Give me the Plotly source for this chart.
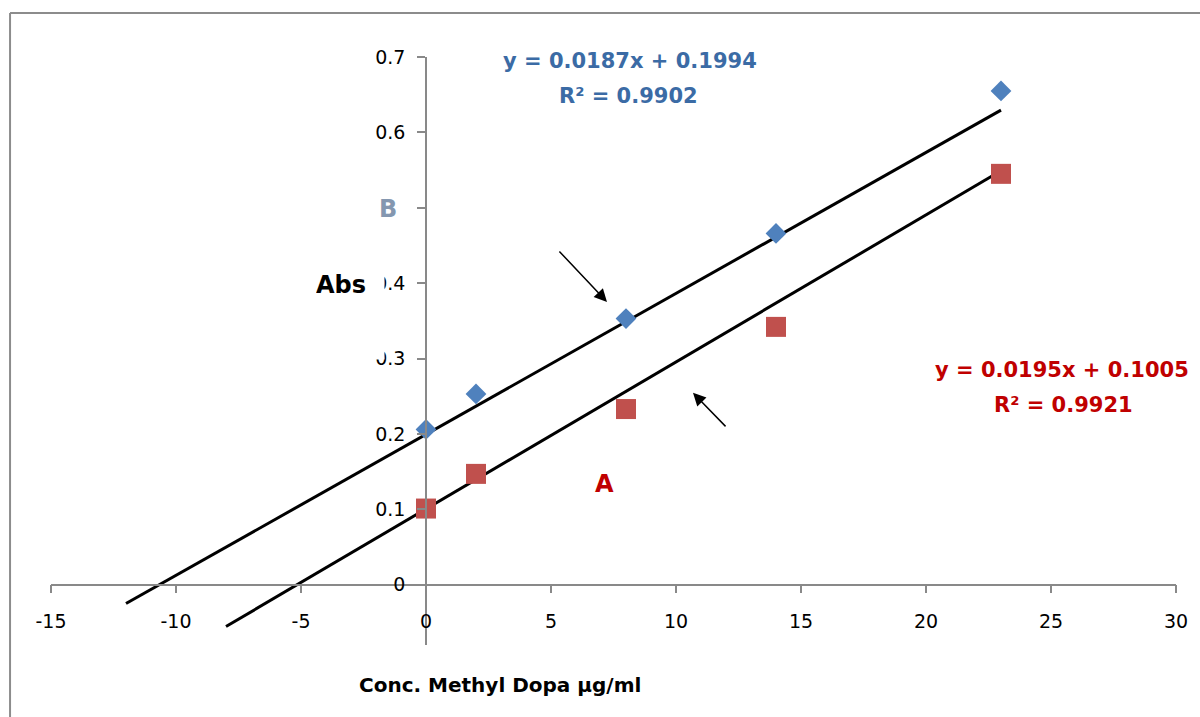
import plotly.graph_objects as go

# ---- data ----
conc = [0, 2, 8, 14, 23]
abs_b = [0.206, 0.253, 0.353, 0.466, 0.655]   # series B (blue diamonds)
abs_a = [0.101, 0.147, 0.233, 0.342, 0.545]   # series A (red squares)

slope_b, icpt_b = 0.0187, 0.1994
slope_a, icpt_a = 0.0195, 0.1005
trend_x_b = [-12, 23]
trend_x_a = [-8, 23]

y_ticks = [0, 0.1, 0.2, 0.3, 0.4, 0.5, 0.6, 0.7]
y_tick_text = ["0", "0.1", "0.2", "0.3", "0.4", "", "0.6", "0.7"]  # 0.5 hidden behind "B" in the reference
x_ticks = [-15, -10, -5, 0, 5, 10, 15, 20, 25, 30]
x_tick_text = [str(v) for v in x_ticks]

eq_b = ["y = 0.0187x + 0.1994", "R² = 0.9902"]
eq_a = ["y = 0.0195x + 0.1005", "R² = 0.9921"]

BLUE_TXT = "#3B6BA5"
RED_TXT = "#C00000"
AXIS_GREY = "#898989"
FONT = "DejaVu Sans"

fig = go.Figure()

# trend lines
fig.add_trace(go.Scatter(x=trend_x_b, y=[slope_b * v + icpt_b for v in trend_x_b],
                         mode="lines", line=dict(color="black", width=3),
                         showlegend=False, hoverinfo="skip"))
fig.add_trace(go.Scatter(x=trend_x_a, y=[slope_a * v + icpt_a for v in trend_x_a],
                         mode="lines", line=dict(color="black", width=3),
                         showlegend=False, hoverinfo="skip"))
# markers
fig.add_trace(go.Scatter(x=conc, y=abs_b, mode="markers",
                         marker=dict(symbol="diamond", size=16, color="#4F81BD",
                                     line=dict(width=0)),
                         showlegend=False))
fig.add_trace(go.Scatter(x=conc, y=abs_a, mode="markers",
                         marker=dict(symbol="square", size=20, color="#C0504D",
                                     line=dict(width=0)),
                         showlegend=False))

ann = []
# equations
ann.append(dict(x=8.16, y=0.695, text=eq_b[0], font=dict(family=FONT, size=21, color=BLUE_TXT, weight="bold")))
ann.append(dict(x=8.1, y=0.648, text=eq_b[1], font=dict(family=FONT, size=21, color=BLUE_TXT, weight="bold")))
ann.append(dict(x=25.44, y=0.285, text=eq_a[0], font=dict(family=FONT, size=21, color=RED_TXT, weight="bold")))
ann.append(dict(x=25.48, y=0.2386, text=eq_a[1], font=dict(family=FONT, size=21, color=RED_TXT, weight="bold")))
# labels B / A
ann.append(dict(x=-1.52, y=0.499, text="B",
                font=dict(family=FONT, size=24, color="#8497B0", weight="bold")))
ann.append(dict(x=7.12, y=0.134, text="A", font=dict(family=FONT, size=24, color=RED_TXT, weight="bold")))
# Abs label (with white box as in reference)
ann.append(dict(x=-4.44, y=0.417, xanchor="left", yanchor="top", text="Abs", width=68, height=88,
                valign="top", align="left", bgcolor="white", borderpad=0,
                font=dict(family=FONT, size=24, color="black", weight="bold")))
# arrows
ann.append(dict(x=7.24, y=0.375, ax=5.28, ay=0.444, axref="x", ayref="y", text="",
                showarrow=True, arrowhead=2, arrowsize=1.7, arrowwidth=1.5, arrowcolor="black"))
ann.append(dict(x=10.68, y=0.2545, ax=12.04, ay=0.208, axref="x", ayref="y", text="",
                showarrow=True, arrowhead=2, arrowsize=1.7, arrowwidth=1.5, arrowcolor="black"))
for a in ann:
    a.setdefault("xref", "x")
    a.setdefault("yref", "y")
    a.setdefault("showarrow", False)
fig.update_layout(annotations=ann)

# x-axis title
fig.add_annotation(xref="x", yref="paper", x=2.96, y=-0.045, yanchor="top", showarrow=False,
                   text="Conc. Methyl Dopa µg/ml",
                   font=dict(family=FONT, size=20, color="black", weight="bold"))

# outer chart border (left and top)
fig.add_shape(type="line", xref="paper", yref="paper", x0=-0.0364, x1=-0.0364, y0=1.0748, y1=-0.3,
              line=dict(color="#8C8C8C", width=2))
fig.add_shape(type="line", xref="paper", yref="paper", x0=-0.0364, x1=1.1, y0=1.0748, y1=1.0748,
              line=dict(color="#8C8C8C", width=2))

y_min, y_max = -0.08, 0.7
fig.update_layout(
    width=1200, height=717, autosize=False,
    margin=dict(l=51, r=24, t=57, b=72),
    paper_bgcolor="white", plot_bgcolor="white",
    xaxis=dict(range=[-15, 30], tickvals=x_ticks, ticktext=x_tick_text,
               showgrid=False, zeroline=False, showline=True, linecolor=AXIS_GREY, linewidth=1.5,
               ticks="outside", ticklen=8, tickcolor=AXIS_GREY, tickwidth=1.5,
               anchor="free", position=(0 - y_min) / (y_max - y_min),
               ticklabelstandoff=12,
               tickfont=dict(family=FONT, size=19, color="black")),
    yaxis=dict(range=[y_min, y_max], tickvals=y_ticks, ticktext=y_tick_text,
               showgrid=False, zeroline=False, showline=True, linecolor=AXIS_GREY, linewidth=1.5,
               ticks="outside", ticklen=8, tickcolor=AXIS_GREY, tickwidth=1.5,
               anchor="free", position=(0 - (-15)) / 45,
               ticklabelstandoff=8,
               tickfont=dict(family=FONT, size=19, color="black")),
)

fig.write_html("out.html", config={"displayModeBar": False},
               post_script="document.body.style.margin='0';document.body.style.padding='0';")
